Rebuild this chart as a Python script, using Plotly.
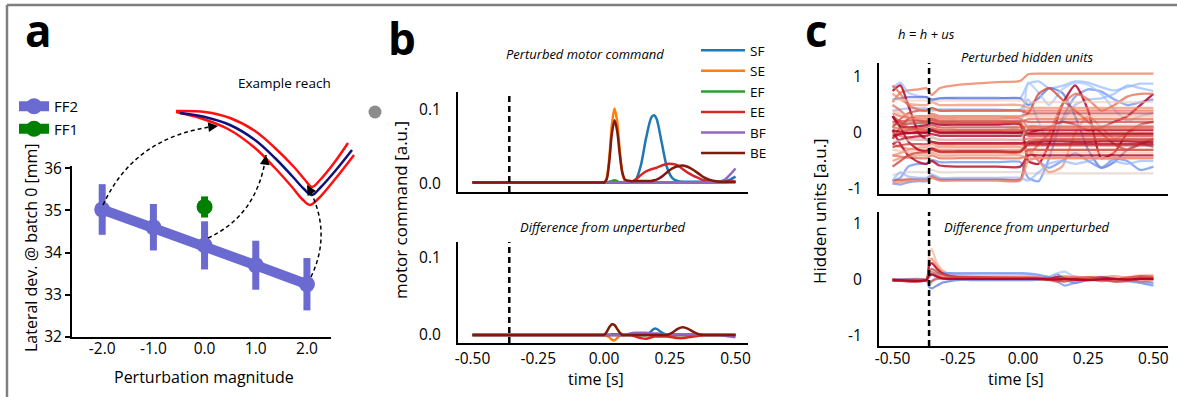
import plotly.graph_objects as go

W, H = 1177, 397
FONT = "Open Sans"

# ---------------- panel a data ----------------
pert_mag = [-2.0, -1.0, 0.0, 1.0, 2.0]
ff2_dev = [35.02, 34.60, 34.17, 33.70, 33.25]
ff2_err = [0.60, 0.55, 0.57, 0.58, 0.62]
ff1_mag = [0.0]
ff1_dev = [35.08]
ff1_err = [0.25]
a_xticks = [-2.0, -1.0, 0.0, 1.0, 2.0]
a_xticktext = ["-2.0", "-1.0", "0.0", "1.0", "2.0"]
a_yticks = [32, 33, 34, 35, 36]
a_yticktext = ["32", "33", "34", "35", "36"]

# example-reach schematic (figure pixel coordinates)
reach_mid_x = [180, 205, 230, 255, 275, 293, 304, 312, 320, 336, 352]
reach_mid_y = [113, 117, 125, 140, 158, 177, 189, 195, 188, 170, 150]
reach_up_x = [176, 205, 230, 255, 275, 294, 305, 312, 320, 334, 348]
reach_up_y = [111, 112, 118, 131, 148, 167, 180, 187, 180, 163, 143]
reach_lo_x = [176, 200, 228, 255, 275, 292, 302, 310, 318, 336, 354]
reach_lo_y = [112, 118, 129, 148, 168, 187, 199, 205, 199, 178, 155]
arrow_start = [(103, 205), (208, 238), (311, 277)]
arrow_ctrl = [(135, 135), (258, 215), (333, 231)]
arrow_end = [(218, 126), (266, 155), (307, 185)]
arrow_tail = [(-8, 1), (-1, 8), (4, 7)]

# ---------------- panel b data ----------------
t_pert = -0.36
t_b = [-0.50, -0.30, -0.10, -0.01, 0.00, 0.01, 0.02, 0.03, 0.04, 0.05, 0.06, 0.07,
       0.08, 0.10, 0.12, 0.14, 0.16, 0.18, 0.19, 0.20, 0.22, 0.24, 0.26, 0.28,
       0.30, 0.32, 0.34, 0.36, 0.38, 0.40, 0.42, 0.44, 0.46, 0.48, 0.50]
muscles = ["SF", "SE", "EF", "EE", "BF", "BE"]
SF = [0.002, 0.002, 0.002, 0.002, 0.002, 0.002, 0.002, 0.002, 0.002, 0.002, 0.002, 0.002,
      0.002, 0.002, 0.005, 0.025, 0.062, 0.090, 0.093, 0.088, 0.055, 0.022, 0.008, 0.004,
      0.003, 0.003, 0.003, 0.003, 0.003, 0.003, 0.003, 0.003, 0.004, 0.006, 0.010]
SE = [0.002, 0.002, 0.002, 0.002, 0.002, 0.008, 0.035, 0.080, 0.102, 0.085, 0.045, 0.015,
      0.004, 0.002, 0.002, 0.002, 0.002, 0.002, 0.002, 0.002, 0.002, 0.002, 0.002, 0.002,
      0.002, 0.002, 0.002, 0.002, 0.002, 0.002, 0.002, 0.002, 0.002, 0.003, 0.003]
EF = [0.002, 0.002, 0.002, 0.002, 0.002, 0.002, 0.003, 0.004, 0.005, 0.004, 0.002, 0.002,
      0.002, 0.002, 0.002, 0.002, 0.002, 0.002, 0.002, 0.002, 0.002, 0.002, 0.002, 0.002,
      0.002, 0.002, 0.002, 0.002, 0.002, 0.002, 0.002, 0.002, 0.002, 0.002, 0.002]
EE = [0.002, 0.002, 0.002, 0.002, 0.002, 0.002, 0.002, 0.002, 0.002, 0.002, 0.002, 0.002,
      0.002, 0.002, 0.006, 0.012, 0.017, 0.020, 0.021, 0.022, 0.025, 0.027, 0.027, 0.025,
      0.020, 0.015, 0.011, 0.008, 0.005, 0.004, 0.003, 0.003, 0.003, 0.003, 0.003]
BF = [0.002, 0.002, 0.002, 0.002, 0.002, 0.002, 0.002, 0.002, 0.002, 0.002, 0.002, 0.002,
      0.002, 0.002, 0.002, 0.002, 0.002, 0.002, 0.002, 0.002, 0.002, 0.002, 0.002, 0.002,
      0.002, 0.002, 0.002, 0.002, 0.002, 0.002, 0.002, 0.003, 0.006, 0.013, 0.021]
BE = [0.002, 0.002, 0.002, 0.002, 0.002, 0.006, 0.030, 0.068, 0.086, 0.072, 0.040, 0.015,
      0.006, 0.004, 0.004, 0.004, 0.004, 0.004, 0.005, 0.006, 0.010, 0.016, 0.021, 0.024,
      0.025, 0.023, 0.019, 0.014, 0.009, 0.006, 0.004, 0.003, 0.003, 0.003, 0.003]
SF_d = [0.0, 0.0, 0.0, 0.0, 0.0, 0.0, 0.0, 0.0, 0.0, 0.0, 0.0, 0.0,
        0.0, 0.0, 0.0, 0.0, 0.0, 0.005, 0.008, 0.008, 0.003, 0.0, -0.001, 0.0,
        0.0, 0.0, 0.0, 0.0, 0.0, 0.0, 0.0, 0.0, 0.0, 0.0, 0.0]
SE_d = [0.0, 0.0, 0.0, 0.0, 0.0, -0.001, -0.003, -0.006, -0.007, -0.004, -0.001, 0.0,
        0.0, 0.0, 0.0, 0.0, 0.0, 0.0, 0.0, 0.0, 0.0, 0.0, 0.0, 0.0,
        0.0, 0.0, 0.0, 0.0, 0.0, 0.0, 0.0, 0.0, 0.0, 0.0, 0.0]
EF_d = [0.0, 0.0, 0.0, 0.0, 0.0, 0.0, 0.0, 0.001, 0.001, 0.001, 0.0, 0.0,
        0.0, 0.0, 0.0, 0.0, 0.0, 0.0, 0.0, 0.0, 0.0, 0.0, 0.0, 0.0,
        0.0, 0.0, 0.0, 0.0, 0.0, 0.0, 0.0, 0.0, 0.0, 0.0, 0.0]
EE_d = [0.0, 0.0, 0.0, 0.0, 0.0, 0.0, 0.0, 0.0, 0.0, 0.0, 0.0, 0.0,
        0.0, 0.0, -0.002, -0.004, -0.005, -0.003, -0.002, -0.002, -0.002, -0.002, -0.003, -0.004,
        -0.004, -0.003, -0.002, -0.001, 0.0, 0.0, 0.0, 0.0, 0.0, 0.0, 0.0]
BF_d = [0.0, 0.0, 0.0, 0.0, 0.0, 0.0, 0.0, 0.0, 0.0, 0.0, 0.0, 0.0,
        0.0, 0.002, 0.003, 0.003, 0.003, 0.002, 0.002, 0.002, 0.001, 0.001, 0.001, 0.001,
        0.001, 0.001, 0.001, 0.001, 0.0, 0.0, 0.0, 0.0, -0.001, -0.002, -0.003]
BE_d = [0.0, 0.0, 0.0, 0.0, 0.0, 0.004, 0.010, 0.014, 0.013, 0.008, 0.003, 0.0,
        0.0, 0.0, 0.0, 0.0, 0.0, 0.0, 0.0, 0.0, 0.0, 0.0, 0.003, 0.008,
        0.010, 0.008, 0.004, 0.001, 0.0, 0.0, 0.0, 0.0, 0.0, 0.0, 0.0]
b_yticks = [0.0, 0.1]
b_yticktext = ["0.0", "0.1"]
time_ticks = [-0.5, -0.25, 0.0, 0.25, 0.5]
time_ticktext = ["-0.50", "-0.25", "0.00", "0.25", "0.50"]

# ---------------- panel c data ----------------
t_c = [-0.50, -0.47, -0.44, -0.40, -0.37, -0.35, -0.32, -0.25, -0.10, -0.01, 0.02,
       0.06, 0.10, 0.15, 0.20, 0.25, 0.30, 0.35, 0.40, 0.45, 0.50]
hidden = [
    [0.55, 0.72, 0.76, 0.78, 0.80, 0.68, 0.80, 0.86, 0.91, 0.93, 1.05, 1.06, 1.06, 1.06, 1.06, 1.06, 1.06, 1.06, 1.06, 1.06, 1.06],
    [0.80, 0.90, 0.72, 0.66, 0.64, 0.58, 0.62, 0.63, 0.63, 0.63, 0.88, 0.92, 0.80, 0.84, 0.92, 0.90, 0.82, 0.76, 0.82, 0.88, 0.88],
    [-0.85, -0.80, -0.60, -0.55, -0.55, -0.48, -0.52, -0.52, -0.52, -0.52, -0.80, -0.86, -0.45, 0.25, 0.65, 0.78, 0.74, 0.60, 0.50, 0.55, 0.60],
    [0.60, 0.62, 0.64, 0.64, 0.64, 0.60, 0.62, 0.62, 0.62, 0.62, 0.50, 0.62, 0.80, 0.72, 0.30, -0.30, -0.62, -0.52, -0.30, -0.20, -0.25],
    [0.20, 0.18, 0.16, 0.16, 0.16, 0.14, 0.15, 0.15, 0.15, 0.15, 0.90, 0.72, 0.50, 0.78, 0.90, 0.86, 0.70, 0.42, 0.22, 0.30, 0.36],
    [-0.90, -0.92, -0.88, -0.86, -0.86, -0.80, -0.84, -0.84, -0.84, -0.84, -0.30, -0.50, -0.62, -0.50, -0.36, -0.50, -0.62, -0.46, -0.50, -0.66, -0.60],
    [0.40, 0.42, 0.44, 0.44, 0.44, 0.40, 0.42, 0.42, 0.42, 0.42, 0.60, 0.20, -0.20, 0.20, 0.50, 0.60, 0.62, 0.70, 0.85, 0.80, 0.75],
    [0.30, 0.12, 0.10, 0.12, 0.14, 0.18, 0.15, 0.15, 0.15, 0.15, -0.50, -0.55, -0.20, 0.50, 0.85, 0.40, -0.45, -0.35, 0.00, 0.15, 0.20],
    [-0.20, -0.25, -0.28, -0.30, -0.30, -0.26, -0.30, -0.30, -0.30, -0.30, -0.30, -0.50, -0.70, -0.60, 0.00, 0.30, 0.10, -0.10, 0.00, 0.10, 0.10],
    [-0.10, 0.10, 0.25, 0.30, 0.30, 0.34, 0.30, 0.30, 0.30, 0.30, 0.35, 0.70, 0.80, 0.60, 0.40, 0.20, 0.00, -0.20, -0.30, -0.20, -0.10],
    [0.05, 0.02, 0.00, 0.00, 0.00, 0.04, 0.00, 0.00, 0.00, 0.00, 0.00, 0.05, 0.10, 0.20, 0.15, 0.05, 0.10, 0.20, 0.30, 0.50, 0.70],
    [-0.40, -0.42, -0.44, -0.45, -0.45, -0.40, -0.45, -0.45, -0.45, -0.45, -0.40, -0.20, 0.00, 0.50, 0.70, 0.60, 0.40, 0.50, 0.65, 0.70, 0.70],
    [0.75, 0.85, 0.50, 0.00, -0.12, -0.16, -0.18, -0.18, -0.18, -0.18, -0.17, -0.16, -0.15, -0.15, -0.16, -0.16, -0.15, -0.15, -0.15, -0.16, -0.16],
    [-0.10, 0.00, 0.05, 0.08, 0.10, 0.14, 0.10, 0.10, 0.10, 0.10, 0.12, 0.12, 0.12, 0.12, 0.12, 0.12, 0.12, 0.12, 0.12, 0.12, 0.12],
    [0.30, 0.20, 0.10, 0.06, 0.05, 0.08, 0.05, 0.05, 0.05, 0.05, 0.00, 0.00, 0.00, 0.00, 0.00, 0.00, 0.00, 0.00, 0.00, 0.00, 0.00],
    [-0.20, -0.12, -0.08, -0.06, -0.05, -0.02, -0.05, -0.05, -0.05, -0.05, -0.02, -0.02, -0.02, -0.02, -0.02, -0.02, -0.02, -0.02, -0.02, -0.02, -0.02],
    [0.50, 0.40, 0.28, 0.22, 0.20, 0.24, 0.20, 0.20, 0.20, 0.20, 0.25, 0.25, 0.25, 0.25, 0.25, 0.25, 0.25, 0.25, 0.25, 0.25, 0.25],
    [-0.40, -0.36, -0.30, -0.26, -0.25, -0.20, -0.25, -0.25, -0.25, -0.25, -0.30, -0.30, -0.30, -0.30, -0.30, -0.30, -0.30, -0.30, -0.30, -0.30, -0.30],
    [0.10, 0.25, 0.35, 0.40, 0.40, 0.45, 0.40, 0.40, 0.40, 0.40, 0.35, 0.35, 0.35, 0.35, 0.35, 0.35, 0.35, 0.35, 0.35, 0.35, 0.35],
    [0.70, 0.60, 0.52, 0.50, 0.50, 0.55, 0.50, 0.50, 0.50, 0.50, 0.45, 0.45, 0.45, 0.45, 0.45, 0.45, 0.45, 0.45, 0.45, 0.45, 0.45],
    [0.05, -0.20, -0.40, -0.52, -0.55, -0.50, -0.58, -0.60, -0.60, -0.60, -0.40, -0.40, -0.40, -0.40, -0.40, -0.40, -0.40, -0.40, -0.40, -0.40, -0.40],
    [-0.85, -0.84, -0.83, -0.82, -0.82, -0.76, -0.82, -0.82, -0.82, -0.82, -0.30, -0.30, -0.30, -0.30, -0.30, -0.30, -0.30, -0.30, -0.30, -0.30, -0.30],
    [-0.30, -0.32, -0.34, -0.35, -0.35, -0.30, -0.35, -0.35, -0.35, -0.35, -0.35, -0.35, -0.35, -0.35, -0.35, -0.35, -0.35, -0.35, -0.35, -0.35, -0.35],
    [-0.75, -0.72, -0.70, -0.70, -0.70, -0.66, -0.70, -0.70, -0.70, -0.70, -0.72, -0.72, -0.72, -0.72, -0.72, -0.72, -0.72, -0.72, -0.72, -0.72, -0.72],
    [0.40, 0.35, 0.32, 0.30, 0.30, 0.34, 0.30, 0.30, 0.30, 0.30, 0.30, 0.30, 0.30, 0.30, 0.30, 0.30, 0.30, 0.30, 0.30, 0.30, 0.30],
    [0.00, -0.05, -0.10, -0.12, -0.12, -0.08, -0.12, -0.12, -0.12, -0.12, -0.10, -0.10, -0.10, -0.10, -0.10, -0.10, -0.10, -0.10, -0.10, -0.10, -0.10],
    [-0.05, -0.02, 0.00, 0.02, 0.02, 0.06, 0.02, 0.02, 0.02, 0.02, 0.05, 0.05, 0.05, 0.05, 0.05, 0.05, 0.05, 0.05, 0.05, 0.05, 0.05],
    [0.20, 0.21, 0.22, 0.22, 0.22, 0.26, 0.22, 0.22, 0.22, 0.22, 0.20, 0.20, 0.20, 0.20, 0.20, 0.20, 0.20, 0.20, 0.20, 0.20, 0.20],
    [-0.50, -0.45, -0.42, -0.40, -0.40, -0.35, -0.40, -0.40, -0.40, -0.40, -0.45, -0.45, -0.45, -0.45, -0.45, -0.45, -0.45, -0.45, -0.45, -0.45, -0.45],
    [-0.85, -0.70, -0.78, -0.80, -0.80, -0.74, -0.80, -0.80, -0.80, -0.80, -0.85, -0.70, -0.55, -0.50, -0.55, -0.50, -0.45, -0.50, -0.55, -0.50, -0.50],
    [0.85, 0.70, 0.50, 0.42, 0.40, 0.44, 0.40, 0.40, 0.40, 0.40, 0.40, 0.40, 0.40, 0.40, 0.40, 0.40, 0.40, 0.40, 0.40, 0.40, 0.40],
    [-0.90, -0.88, -0.86, -0.85, -0.85, -0.80, -0.85, -0.85, -0.85, -0.85, -0.50, -0.45, -0.45, -0.45, -0.45, -0.45, -0.45, -0.45, -0.45, -0.45, -0.45],
    [0.30, 0.10, -0.15, -0.30, -0.32, -0.28, -0.33, -0.33, -0.33, -0.33, -0.20, -0.20, -0.20, -0.20, -0.20, -0.20, -0.20, -0.20, -0.20, -0.20, -0.20],
    [0.60, 0.59, 0.58, 0.58, 0.58, 0.54, 0.58, 0.58, 0.58, 0.58, 0.55, 0.55, 0.55, 0.55, 0.55, 0.55, 0.55, 0.55, 0.55, 0.55, 0.55],
    [0.10, 0.08, 0.06, 0.05, 0.05, 0.09, 0.05, 0.05, 0.05, 0.05, 0.08, 0.08, 0.08, 0.08, 0.08, 0.08, 0.08, 0.08, 0.08, 0.08, 0.08],
    [-0.15, -0.14, -0.13, -0.12, -0.12, -0.08, -0.12, -0.12, -0.12, -0.12, 0.15, 0.15, 0.15, 0.15, 0.15, 0.15, 0.15, 0.15, 0.15, 0.15, 0.15],
    [0.15, 0.16, 0.17, 0.18, 0.18, 0.22, 0.18, 0.18, 0.18, 0.18, -0.05, -0.05, -0.05, -0.05, -0.05, -0.05, -0.05, -0.05, -0.05, -0.05, -0.05],
    [-0.25, -0.22, -0.20, -0.20, -0.20, -0.16, -0.20, -0.20, -0.20, -0.20, -0.22, -0.22, -0.22, -0.22, -0.22, -0.22, -0.22, -0.22, -0.22, -0.22, -0.22],
    [0.35, 0.30, 0.27, 0.26, 0.26, 0.30, 0.26, 0.26, 0.26, 0.26, 0.10, 0.10, 0.10, 0.10, 0.10, 0.10, 0.10, 0.10, 0.10, 0.10, 0.10],
    [-0.60, -0.50, -0.40, -0.35, -0.34, -0.30, -0.34, -0.34, -0.34, -0.34, -0.15, -0.13, -0.12, -0.12, -0.12, -0.12, -0.12, -0.12, -0.12, -0.12, -0.12],
]
hidden_colors = [
    "rgba(238,130,100,0.80)", "rgba(150,185,250,0.70)", "rgba(110,145,240,0.75)", "rgba(80,110,220,0.70)",
    "rgba(170,199,253,0.70)", "rgba(110,145,240,0.75)", "rgba(150,185,250,0.70)", "rgba(180,4,38,0.85)",
    "rgba(241,140,110,0.75)", "rgba(210,75,64,0.80)", "rgba(180,4,38,0.85)", "rgba(230,115,90,0.80)",
    "rgba(180,4,38,0.85)", "rgba(210,75,64,0.75)", "rgba(210,75,64,0.75)", "rgba(180,4,38,0.80)",
    "rgba(228,110,86,0.75)", "rgba(241,140,110,0.70)", "rgba(210,75,64,0.75)", "rgba(241,140,110,0.70)",
    "rgba(180,4,38,0.80)", "rgba(210,75,64,0.75)", "rgba(245,180,155,0.60)", "rgba(220,200,190,0.60)",
    "rgba(245,180,155,0.60)", "rgba(228,110,86,0.75)", "rgba(180,4,38,0.80)", "rgba(210,75,64,0.75)",
    "rgba(241,140,110,0.70)", "rgba(150,185,250,0.70)", "rgba(228,110,86,0.75)", "rgba(241,140,110,0.75)",
    "rgba(180,4,38,0.80)", "rgba(238,200,185,0.60)", "rgba(228,110,86,0.75)", "rgba(220,220,220,0.60)",
    "rgba(210,75,64,0.75)", "rgba(200,50,50,0.75)", "rgba(232,120,95,0.75)", "rgba(205,60,55,0.75)",
]
t_cd = [-0.50, -0.37, -0.36, -0.35, -0.33, -0.31, -0.28, -0.25, -0.20, 0.00, 0.05,
        0.10, 0.13, 0.16, 0.20, 0.25, 0.30, 0.35, 0.40, 0.45, 0.50]
hidden_diff = [
    [0.0, 0.0, 0.45, 0.55, 0.30, 0.18, 0.10, 0.08, 0.06, 0.05, 0.05, 0.04, 0.02, 0.03, 0.04, 0.05, 0.06, 0.03, 0.05, 0.08, 0.09],
    [0.0, 0.0, 0.30, 0.38, 0.25, 0.15, 0.10, 0.08, 0.06, 0.06, 0.05, 0.03, 0.05, 0.07, 0.04, 0.02, 0.05, 0.07, 0.04, 0.06, 0.05],
    [0.0, 0.0, -0.12, -0.15, -0.10, -0.05, -0.02, 0.00, 0.00, 0.00, 0.00, 0.05, 0.10, 0.02, -0.05, 0.00, 0.00, -0.02, 0.00, -0.03, -0.05],
    [0.0, 0.0, -0.10, -0.05, 0.08, 0.12, 0.12, 0.10, 0.10, 0.10, 0.08, 0.05, 0.12, 0.15, 0.05, 0.00, -0.02, 0.00, 0.00, -0.05, -0.08],
    [0.0, 0.0, 0.05, 0.10, 0.12, 0.12, 0.12, 0.12, 0.12, 0.12, 0.10, 0.05, -0.02, -0.10, -0.05, 0.00, 0.05, 0.02, -0.02, -0.05, -0.10],
    [0.0, 0.0, 0.25, 0.30, 0.20, 0.12, 0.07, 0.05, 0.04, 0.03, 0.03, 0.02, 0.05, 0.03, 0.00, 0.02, 0.04, 0.02, 0.00, 0.03, 0.02],
    [0.0, 0.0, 0.15, 0.20, 0.15, 0.10, 0.06, 0.05, 0.05, 0.04, 0.04, 0.03, 0.00, -0.03, 0.02, 0.05, 0.03, 0.00, 0.04, 0.07, 0.06],
    [0.0, 0.0, 0.10, 0.15, 0.10, 0.06, 0.04, 0.03, 0.03, 0.03, 0.02, 0.00, 0.02, 0.04, 0.06, 0.03, -0.02, 0.00, 0.03, -0.03, 0.00],
    [0.0, 0.0, -0.05, -0.02, 0.02, 0.03, 0.03, 0.03, 0.03, 0.02, 0.02, 0.00, -0.03, 0.00, 0.03, 0.00, 0.02, -0.03, -0.02, 0.02, 0.03],
    [0.0, 0.0, 0.08, 0.10, 0.06, 0.03, 0.02, 0.02, 0.02, 0.02, 0.02, 0.01, 0.01, 0.02, 0.01, 0.00, 0.01, 0.02, 0.01, 0.02, 0.02],
]
hidden_diff_colors = [
    "rgba(245,180,155,0.70)", "rgba(241,140,110,0.75)", "rgba(80,110,220,0.70)", "rgba(170,199,253,0.75)",
    "rgba(110,145,240,0.75)", "rgba(180,4,38,0.85)", "rgba(210,75,64,0.80)", "rgba(228,110,86,0.75)",
    "rgba(210,75,64,0.75)", "rgba(180,4,38,0.95)",
]
c_yticks = [-1, 0, 1]
c_yticktext = ["-1", "0", "1"]

# ---------------- figure ----------------
def px_x(x0, x1):
    return [x0 / W, x1 / W]

def px_y(top, bottom):
    return [1 - bottom / H, 1 - top / H]

fig = go.Figure()

ff2_col = "#6a6ad0"
ff1_col = "#008000"
fig.add_trace(go.Scatter(x=pert_mag, y=ff2_dev, mode="lines+markers", name="FF2",
                         line=dict(color=ff2_col, width=10), marker=dict(size=16, color=ff2_col),
                         error_y=dict(type="data", array=ff2_err, thickness=7, width=0, color=ff2_col),
                         xaxis="x", yaxis="y", legend="legend"))
fig.add_trace(go.Scatter(x=ff1_mag, y=ff1_dev, mode="lines+markers", name="FF1",
                         line=dict(color=ff1_col, width=10), marker=dict(size=16, color=ff1_col),
                         error_y=dict(type="data", array=ff1_err, thickness=7, width=0, color=ff1_col),
                         xaxis="x", yaxis="y", legend="legend"))

b_colors = ["#1f77b4", "#ff7f0e", "#2ca02c", "#d62728", "#9467bd", "#7f1a0c"]
b_series = [SF, SE, EF, EE, BF, BE]
b_diff = [SF_d, SE_d, EF_d, EE_d, BF_d, BE_d]
for name, col, ys in zip(muscles, b_colors, b_series):
    fig.add_trace(go.Scatter(x=t_b, y=ys, mode="lines", name=name,
                             line=dict(color=col, width=2.5, shape="spline", smoothing=0.8),
                             xaxis="x2", yaxis="y2", legend="legend2"))
for name, col, ys in zip(muscles, b_colors, b_diff):
    fig.add_trace(go.Scatter(x=t_b, y=ys, mode="lines", name=name, showlegend=False,
                             line=dict(color=col, width=2.5, shape="spline", smoothing=0.8),
                             xaxis="x3", yaxis="y3"))

for ys, col in zip(hidden, hidden_colors):
    fig.add_trace(go.Scatter(x=t_c, y=ys, mode="lines", showlegend=False,
                             line=dict(color=col, width=2.3, shape="spline", smoothing=0.6),
                             xaxis="x4", yaxis="y4"))
for ys, col in zip(hidden_diff, hidden_diff_colors):
    fig.add_trace(go.Scatter(x=t_cd, y=ys, mode="lines", showlegend=False,
                             line=dict(color=col, width=2.3, shape="spline", smoothing=0.6),
                             xaxis="x5", yaxis="y5"))

# schematic overlay
fig.add_trace(go.Scatter(x=reach_up_x, y=reach_up_y, mode="lines", showlegend=False,
                         line=dict(color="#ff1010", width=2.5, shape="spline"), xaxis="x6", yaxis="y6"))
fig.add_trace(go.Scatter(x=reach_lo_x, y=reach_lo_y, mode="lines", showlegend=False,
                         line=dict(color="#ff1010", width=2.5, shape="spline"), xaxis="x6", yaxis="y6"))
fig.add_trace(go.Scatter(x=reach_mid_x, y=reach_mid_y, mode="lines", showlegend=False,
                         line=dict(color="#10107a", width=2.5, shape="spline"), xaxis="x6", yaxis="y6"))
fig.add_trace(go.Scatter(x=[375], y=[112], mode="markers", showlegend=False,
                         marker=dict(size=13, color="#8c8c8c"), xaxis="x6", yaxis="y6"))

axis_common = dict(showgrid=False, zeroline=False, showline=True, linecolor="black", linewidth=2,
                   automargin=False, tickfont=dict(family=FONT, size=15.5, color="black"))

fig.update_layout(
    template="none",
    width=W, height=H, margin=dict(l=0, r=0, t=0, b=0, pad=0, autoexpand=False),
    paper_bgcolor="white", plot_bgcolor="rgba(0,0,0,0)",
    font=dict(family=FONT, color="black"),
    xaxis=dict(domain=px_x(72, 331), range=[-2.59, 2.47], tickvals=a_xticks, ticktext=a_xticktext,
               ticks="", ticklabelstandoff=-4, **axis_common),
    yaxis=dict(domain=px_y(166, 337), range=[32, 36.05], tickvals=a_yticks, ticktext=a_yticktext,
               ticks="outside", ticklen=5, tickwidth=1.5, tickcolor="black", **axis_common),
    xaxis2=dict(domain=px_x(458, 748), range=[-0.555, 0.5475], showticklabels=False, ticks="",
                anchor="y2", **axis_common),
    yaxis2=dict(domain=px_y(92, 192), range=[-0.0108, 0.1243], tickvals=b_yticks, ticktext=b_yticktext,
                ticks="", ticklabelstandoff=12, anchor="x2", **axis_common),
    xaxis3=dict(domain=px_x(458, 748), range=[-0.555, 0.5475], tickvals=time_ticks, ticktext=time_ticktext,
                ticks="", anchor="y3", **axis_common),
    yaxis3=dict(domain=px_y(242, 343), range=[-0.0104, 0.1208], tickvals=b_yticks, ticktext=b_yticktext,
                ticks="", ticklabelstandoff=12, anchor="x3", **axis_common),
    xaxis4=dict(domain=px_x(879, 1168), range=[-0.552, 0.556], showticklabels=False, ticks="",
                anchor="y4", **axis_common),
    yaxis4=dict(domain=px_y(63, 194), range=[-1.089, 1.25], tickvals=c_yticks, ticktext=c_yticktext,
                ticks="", ticklabelstandoff=12, anchor="x4", **axis_common),
    xaxis5=dict(domain=px_x(879, 1168), range=[-0.552, 0.556], tickvals=time_ticks, ticktext=time_ticktext,
                ticks="", ticklabelstandoff=-3, anchor="y5", **axis_common),
    yaxis5=dict(domain=px_y(212, 346), range=[-1.179, 1.214], tickvals=c_yticks, ticktext=c_yticktext,
                ticks="", ticklabelstandoff=12, anchor="x5", **axis_common),
    xaxis6=dict(domain=[0, 1], range=[0, W], visible=False, anchor="y6", fixedrange=True, automargin=False),
    yaxis6=dict(domain=[0, 1], range=[H, 0], visible=False, anchor="x6", fixedrange=True, automargin=False),
    legend=dict(x=14 / W, y=1 - 90 / H, xanchor="left", yanchor="top", bgcolor="rgba(0,0,0,0)",
                font=dict(family=FONT, size=15, color="black"), itemsizing="trace", tracegroupgap=0),
    legend2=dict(x=696 / W, y=1 - 35 / H, xanchor="left", yanchor="top", bgcolor="rgba(0,0,0,0)",
                 font=dict(family=FONT, size=13.5, color="black"), tracegroupgap=0, itemwidth=44),
)

shapes = []
# border
shapes.append(dict(type="line", xref="paper", yref="paper", x0=7 / W, x1=1, y0=1 - 5 / H, y1=1 - 5 / H,
                   line=dict(color="#7f7f7f", width=2.5)))
shapes.append(dict(type="line", xref="paper", yref="paper", x0=7 / W, x1=7 / W, y0=0, y1=1 - 5 / H,
                   line=dict(color="#7f7f7f", width=2.5)))
# perturbation time markers
for xr, yr in [("x2", "y2"), ("x3", "y3"), ("x4", "y4"), ("x5", "y5")]:
    shapes.append(dict(type="line", xref=xr, yref=yr + " domain", x0=t_pert, x1=t_pert, y0=0, y1=1,
                       line=dict(color="black", width=2.5, dash="6px,4px")))
# dashed arrows in panel a
for (sx, sy), (cx, cy), (ex, ey) in zip(arrow_start, arrow_ctrl, arrow_end):
    shapes.append(dict(type="path", xref="x6", yref="y6", path=f"M {sx},{sy} Q {cx},{cy} {ex},{ey}",
                       line=dict(color="black", width=1.5, dash="4px,3px")))
fig.update_layout(shapes=shapes)

ann = []
for (ex, ey), (tx, ty) in zip(arrow_end, arrow_tail):
    ann.append(dict(x=ex, y=ey, xref="x6", yref="y6", ax=tx, ay=ty, axref="pixel", ayref="pixel",
                    text="", showarrow=True, arrowhead=2, arrowsize=1.3, arrowwidth=1.5, arrowcolor="black",
                    standoff=0))

def txt(x, y, s, size, **kw):
    d = dict(x=x / W, y=1 - y / H, xref="paper", yref="paper", text=s, showarrow=False,
             font=dict(family=FONT, size=size, color="black"), xanchor="center", yanchor="middle")
    d.update(kw)
    return d

ann += [
    txt(38, 30, "<b>a</b>", 44),
    txt(402, 38, "<b>b</b>", 44),
    txt(817, 30, "<b>c</b>", 44),
    txt(284, 83, "Example reach", 13.5),
    txt(31, 248, "Lateral dev. @ batch 0 [mm]", 16, textangle=-90),
    txt(204, 377, "Perturbation magnitude", 16),
    txt(400, 210, "motor command [a.u.]", 17, textangle=-90),
    txt(596, 379, "time [s]", 16),
    txt(585, 54, "<i>Perturbed motor command</i>", 13),
    txt(603, 227, "<i>Difference from unperturbed</i>", 13),
    txt(819, 211, "Hidden units [a.u.]", 17, textangle=-90),
    txt(1016, 379, "time [s]", 16),
    txt(926, 34, "<i>h = h + us</i>", 13),
    txt(1027, 57, "<i>Perturbed hidden units</i>", 13),
    txt(1027, 227, "<i>Difference from unperturbed</i>", 13),
]
fig.update_layout(annotations=ann)

fig.write_html("out.html",
               post_script="document.body.style.margin='0';document.body.style.padding='0';"
                           "document.body.style.overflow='hidden';")
